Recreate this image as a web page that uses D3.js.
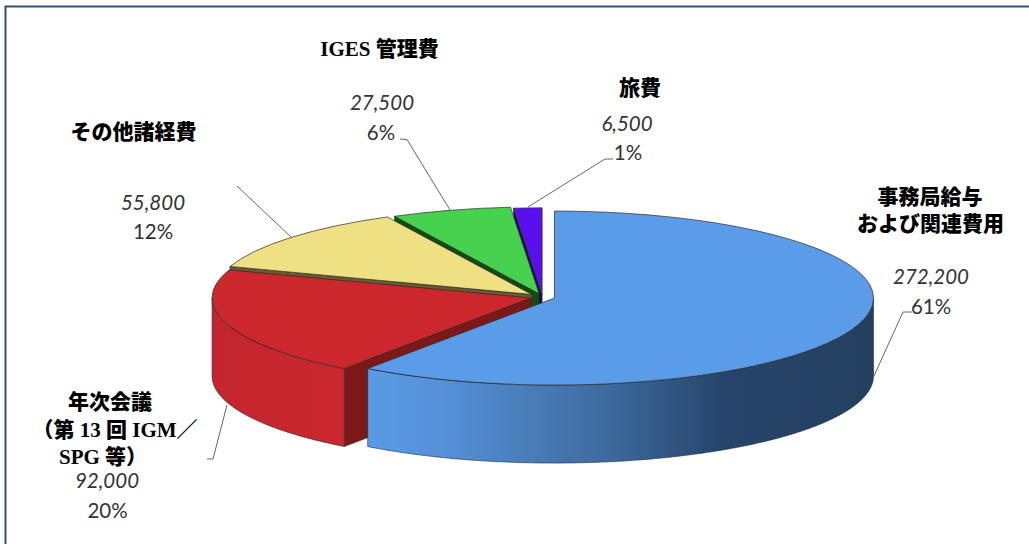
<!DOCTYPE html>
<html lang="ja">
<head>
<meta charset="UTF-8" />
<script src="https://d3js.org/d3.v7.min.js"></script>
<style>
  html, body { margin: 0; padding: 0; background: #fff; }
  svg { display: block; }
  .name { font-family: "Liberation Serif", "Noto Sans CJK JP", serif; font-weight: 900; font-size: 21px; fill: #000; text-anchor: middle; dominant-baseline: central; }
  .amount { font-family: Lato, sans-serif; font-style: italic; font-size: 20.5px; fill: #333; text-anchor: middle; dominant-baseline: central; }
  .share { font-family: Lato, sans-serif; font-size: 20.5px; fill: #333; text-anchor: middle; dominant-baseline: central; }
</style>
</head>
<body>
<div id="chart"></div>
<script>
// data
var categories = ["事務局給与および関連費用", "年次会議（第 13 回 IGM／SPG 等）", "その他諸経費", "IGES 管理費", "旅費"];
var amounts = [272200, 92000, 55800, 27500, 6500];
var shares = ["61%", "20%", "12%", "6%", "1%"];

var width = 1029, height = 544;

// pie geometry
var cx = 542.5, cy = 297, rx = 319, ry = 87, depth = 78;
var tilt = ry / rx;
var explode = [12.6, 12, 14, 12, 8];
var topColors = ["#5b9ce8", "#cc272d", "#efe083", "#46d24e", "#5a10ee"];
var sideColors = ["#1f3f63", "#7d1718", "#6b5a30", "#0f4d10", "#1a0a55"];

var svg = d3.select("#chart").append("svg")
  .attr("width", width)
  .attr("height", height);

// frame, only top and left are inside the crop
svg.append("path")
  .attr("d", "M1029,6.5H5.5V544")
  .attr("fill", "none")
  .attr("stroke", "#2f5078")
  .attr("stroke-width", 2);

var defs = svg.append("defs");

var blueGrad = defs.append("linearGradient").attr("id", "blueWall");
blueGrad.append("stop").attr("offset", "0%").attr("stop-color", "#5a9be6");
blueGrad.append("stop").attr("offset", "15%").attr("stop-color", "#5590d8");
blueGrad.append("stop").attr("offset", "46%").attr("stop-color", "#3f6ca0");
blueGrad.append("stop").attr("offset", "70%").attr("stop-color", "#27456c");
blueGrad.append("stop").attr("offset", "100%").attr("stop-color", "#24405f");

var redGrad = defs.append("linearGradient").attr("id", "redWall");
redGrad.append("stop").attr("offset", "0%").attr("stop-color", "#c4252c");
redGrad.append("stop").attr("offset", "100%").attr("stop-color", "#ca272e");

var pie = d3.pie().sort(null).value(function(d) { return d; });
var slices = pie(amounts);

var arc = d3.arc().innerRadius(0).outerRadius(rx);

// point on the rim of a slice, angle is clockwise from 12 o'clock
function rim(a, c) {
  return [c.x + rx * Math.sin(a), c.y - ry * Math.cos(a)];
}

function sliceCentre(d, i) {
  var mid = (d.startAngle + d.endAngle) / 2;
  return {
    x: cx + explode[i] * Math.sin(mid),
    y: cy - explode[i] * tilt * Math.cos(mid)
  };
}

// outer wall, only the part facing the viewer
function wallPath(d, c) {
  var a0 = Math.max(d.startAngle, Math.PI / 2);
  var a1 = Math.min(d.endAngle, Math.PI * 3 / 2);
  if (a1 <= a0) return null;
  var angles = d3.range(a0, a1, 0.01).concat([a1]);
  var upper = angles.map(function(a) { return rim(a, c); });
  var lower = angles.slice().reverse().map(function(a) {
    var p = rim(a, c);
    return [p[0], p[1] + depth];
  });
  return d3.line()(upper.concat(lower)) + "Z";
}

// cut face on the start side of a slice
function cutPath(d, c) {
  var p = rim(d.startAngle, c);
  return d3.line()([[c.x, c.y], p, [p[0], p[1] + depth], [c.x, c.y + depth]]) + "Z";
}

// painter order, back slices first
var order = [4, 3, 2, 1, 0];
order.forEach(function(i) {
  var d = slices[i];
  var c = sliceCentre(d, i);
  var g = svg.append("g").attr("class", "slice");

  if (i !== 0) {
    g.append("path")
      .attr("d", cutPath(d, c))
      .attr("fill", sideColors[i])
      .attr("stroke", "#222")
      .attr("stroke-width", 0.5);
  }

  var wall = wallPath(d, c);
  if (wall) {
    g.append("path")
      .attr("d", wall)
      .attr("fill", i === 0 ? "url(#blueWall)" : i === 1 ? "url(#redWall)" : sideColors[i])
      .attr("stroke", "#1c2a3a")
      .attr("stroke-width", 0.6);
  }

  g.append("path")
    .attr("d", arc(d))
    .attr("transform", "translate(" + c.x + "," + c.y + ") scale(1," + tilt + ")")
    .attr("fill", topColors[i])
    .attr("stroke", "#2a2a2a")
    .attr("stroke-width", 0.7)
    .attr("vector-effect", "non-scaling-stroke");
});

// leader lines
var leaders = [
  [[912, 312], [903, 312], [873, 378]],
  [[207, 459], [213, 459], [227, 405]],
  [[237, 186], [292, 238]],
  [[400, 139], [407, 139.5], [450, 210]],
  [[613, 159], [605, 159], [528, 207]]
];
svg.selectAll("path.leader")
  .data(leaders)
  .enter()
  .append("path")
  .attr("class", "leader")
  .attr("d", d3.line())
  .attr("fill", "none")
  .attr("stroke", "#666")
  .attr("stroke-width", 1);

// labels, broken into the lines the chart uses
var nameLines = [
  { x: 930, y: 197, text: "事務局給与" },
  { x: 930.5, y: 224, text: "および関連費用" },
  { x: 110, y: 402, text: "年次会議" },
  { x: 115, y: 430, text: "（第 13 回 IGM／" },
  { x: 103, y: 457, text: "SPG 等）" },
  { x: 133.5, y: 132, text: "その他諸経費" },
  { x: 379.5, y: 49, text: "IGES 管理費" },
  { x: 640, y: 88, text: "旅費" }
];
var amountPos = [[931, 276], [107, 480], [153, 202], [382, 102], [627, 123]];
var sharePos = [[931, 306], [107.5, 510], [153, 231], [381, 132], [628, 152]];

svg.selectAll("text.name")
  .data(nameLines)
  .enter()
  .append("text")
  .attr("class", "name")
  .attr("x", function(d) { return d.x; })
  .attr("y", function(d) { return d.y; })
  .text(function(d) { return d.text; });

svg.selectAll("text.amount")
  .data(amounts)
  .enter()
  .append("text")
  .attr("class", "amount")
  .attr("x", function(d, i) { return amountPos[i][0]; })
  .attr("y", function(d, i) { return amountPos[i][1]; })
  .text(d3.format(","));

svg.selectAll("text.share")
  .data(shares)
  .enter()
  .append("text")
  .attr("class", "share")
  .attr("x", function(d, i) { return sharePos[i][0]; })
  .attr("y", function(d, i) { return sharePos[i][1]; })
  .text(function(d) { return d; });
</script>
</body>
</html>
